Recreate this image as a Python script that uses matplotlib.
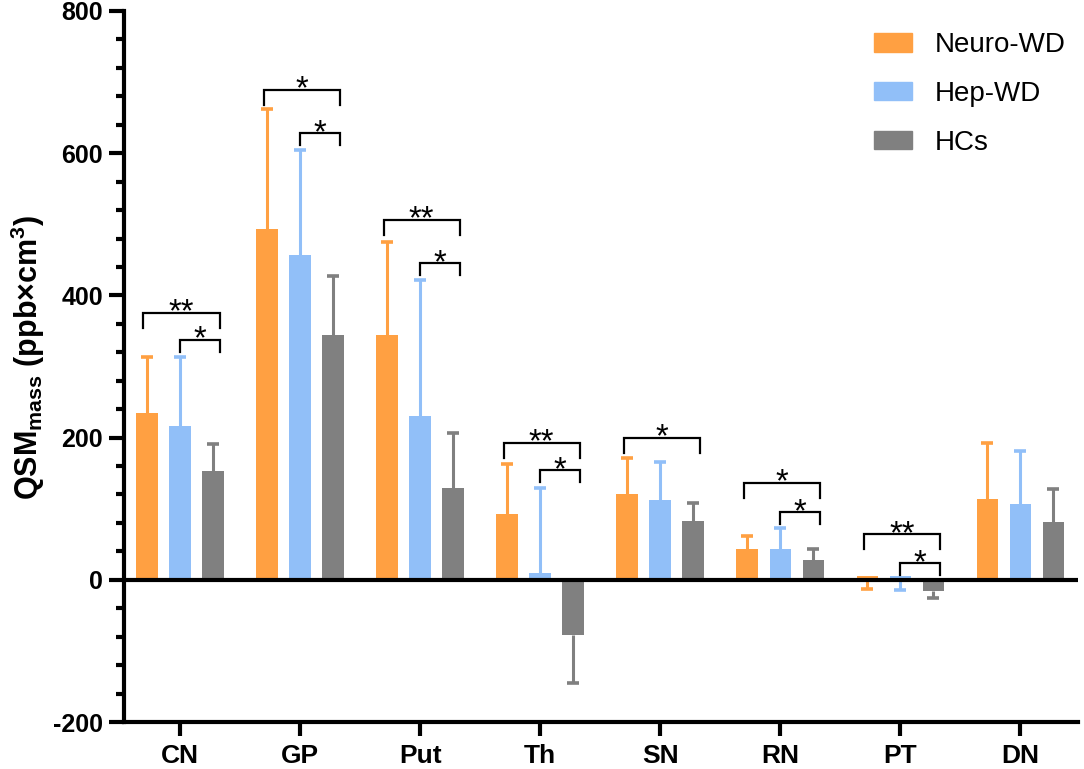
import numpy as np
import matplotlib
matplotlib.use("Agg")
import matplotlib.pyplot as plt
from matplotlib.ticker import MultipleLocator
from matplotlib.patches import Patch

plt.rcParams['font.family'] = ['Liberation Sans', 'DejaVu Sans']
plt.rcParams['axes.unicode_minus'] = False
plt.rcParams['mathtext.fontset'] = 'custom'
plt.rcParams['mathtext.rm'] = 'Liberation Sans:bold'
plt.rcParams['mathtext.it'] = 'Liberation Sans:bold'
plt.rcParams['mathtext.bf'] = 'Liberation Sans:bold'

# data
regions = ['CN', 'GP', 'Put', 'Th', 'SN', 'RN', 'PT', 'DN']
groups = ['Neuro-WD', 'Hep-WD', 'HCs']
neuro_mean = [234, 494, 344, 93, 121, 44, 5, 113]
neuro_err_end = [314, 662, 475, 163, 172, 62, -13, 193]
hep_mean = [217, 457, 230, 9, 112, 44, 5, 106]
hep_err_end = [314, 604, 421, 129, 165, 73, -14, 181]
hc_mean = [153, 344, 129, -78, 83, 28, -16, 81]
hc_err_end = [191, 427, 206, -145, 108, 43, -26, 128]

# significance brackets: (region idx, first group, last group, height, label)
sig_brackets = [
    (0, 0, 2, 375, '**'), (0, 1, 2, 337, '*'),
    (1, 0, 2, 689, '*'), (1, 1, 2, 628, '*'),
    (2, 0, 2, 506, '**'), (2, 1, 2, 445, '*'),
    (3, 0, 2, 193, '**'), (3, 1, 2, 154, '*'),
    (4, 0, 2, 200, '*'),
    (5, 0, 2, 136, '*'), (5, 1, 2, 95, '*'),
    (6, 0, 2, 64, '**'), (6, 1, 2, 23, '*'),
]

colors = ['#FFA042', '#91BFF8', '#808080']
means = [neuro_mean, hep_mean, hc_mean]
ends = [neuro_err_end, hep_err_end, hc_err_end]

fig = plt.figure(figsize=(10.84, 7.69), dpi=100)
ax = fig.add_axes([0.1144, 0.0611, 0.8801, 0.9246])

x = np.arange(len(regions))
offsets = [-0.275, 0.0, 0.275]
width = 0.18

for m, e, c, off, g in zip(means, ends, colors, offsets, groups):
    m = np.array(m, float)
    e = np.array(e, float)
    lower = np.clip(m - e, 0, None)
    upper = np.clip(e - m, 0, None)
    ax.bar(x + off, m, width=width, color=c, label=g, zorder=2)
    # one-sided error bars: line from the bar top, cap only at the far end
    ax.errorbar(x + off, m, yerr=[lower, upper], fmt='none', ecolor=c,
                elinewidth=2.2, capsize=0, zorder=1.5)
    ax.plot(x + off, e, ls='none', marker='_', markersize=8,
            markeredgewidth=2.6, color=c, zorder=1.5)

ax.axhline(0, color='black', lw=3, zorder=3)

# brackets
for ri, ga, gb, yb, lab in sig_brackets:
    leg = 21 if ga == 0 else 16
    x0 = ri + offsets[ga] - (0.03 if ga == 0 else 0.0)
    x1 = ri + offsets[gb] + 0.055
    ax.plot([x0, x0, x1, x1], [yb - leg, yb, yb, yb - leg], color='black',
            lw=1.6, solid_joinstyle='miter', zorder=4)
    ax.text((x0 + x1) / 2, yb - 12, lab, ha='center', va='baseline',
            fontsize=23.5, zorder=4)

ax.set_xlim(-0.467, 7.48)
ax.set_ylim(-200, 800)
ax.yaxis.set_major_locator(MultipleLocator(200))
ax.yaxis.set_minor_locator(MultipleLocator(40))
ax.set_xticks(x)
ax.set_xticklabels(regions, fontsize=19, fontweight='bold')
for lbl in ax.get_yticklabels():
    lbl.set_fontsize(18)
    lbl.set_fontweight('bold')

for s in ['top', 'right']:
    ax.spines[s].set_visible(False)
for s in ['left', 'bottom']:
    ax.spines[s].set_linewidth(3)
ax.tick_params(axis='y', which='major', length=11, width=3, pad=4)
ax.tick_params(axis='y', which='minor', length=6, width=3)
ax.tick_params(axis='x', which='major', length=10, width=3, pad=6)

fig.text(28 / 1084, 1 - 357 / 769, r'QSM$_{\mathrm{mass}}$ (ppb×cm$^{3}$)',
         rotation=90, ha='center', va='center', fontsize=22, fontweight='bold')

handles = [Patch(facecolor=c, edgecolor=c) for c in colors]
ax.legend(handles, groups, loc='upper left', bbox_to_anchor=(874 / 1084, 1 - 32 / 769),
          bbox_transform=fig.transFigure, frameon=False, fontsize=20,
          handlelength=1.37, handleheight=0.65, handletextpad=0.8,
          labelspacing=0.82, borderpad=0, borderaxespad=0)

fig.savefig('out.png', dpi=100)
